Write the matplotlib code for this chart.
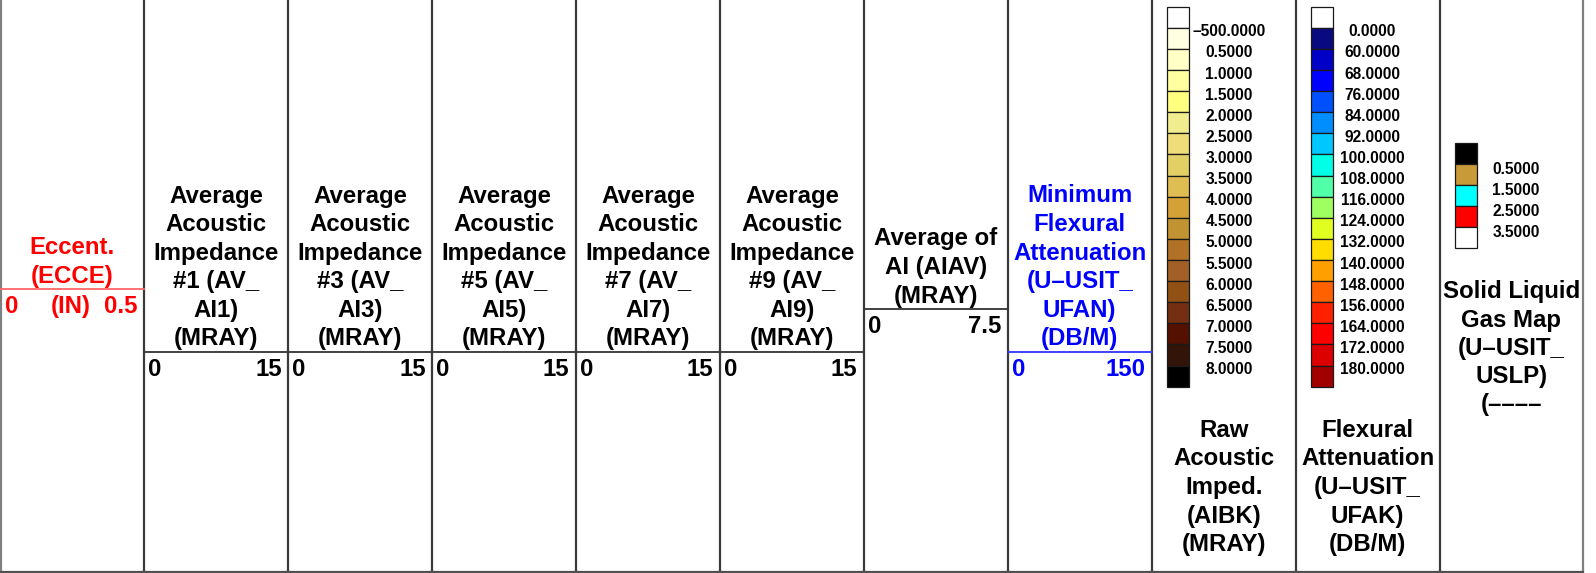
import matplotlib
matplotlib.use("Agg")
import matplotlib.pyplot as plt
from matplotlib.patches import Rectangle

plt.rcParams['font.family'] = ['Liberation Sans', 'DejaVu Sans']
plt.rcParams['font.weight'] = 'bold'

# ---- track headers -------------------------------------------------------
track_titles = [
    "Eccent.\n(ECCE)",
    "Average\nAcoustic\nImpedance\n#1 (AV_\nAI1)\n(MRAY)",
    "Average\nAcoustic\nImpedance\n#3 (AV_\nAI3)\n(MRAY)",
    "Average\nAcoustic\nImpedance\n#5 (AV_\nAI5)\n(MRAY)",
    "Average\nAcoustic\nImpedance\n#7 (AV_\nAI7)\n(MRAY)",
    "Average\nAcoustic\nImpedance\n#9 (AV_\nAI9)\n(MRAY)",
    "Average of\nAI (AIAV)\n(MRAY)",
    "Minimum\nFlexural\nAttenuation\n(U\u2013USIT_\nUFAN)\n(DB/M)",
]
track_colors = ["#ff0000", "black", "black", "black", "black", "black", "black", "#0000ff"]
line_colors = ["#ff6666", "#333333", "#333333", "#333333", "#333333", "#333333", "#333333", "#3333ff"]
scale_left = ["0", "0", "0", "0", "0", "0", "0", "0"]
scale_mid = ["(IN)", "", "", "", "", "", "", ""]
scale_right = ["0.5", "15", "15", "15", "15", "15", "7.5", "150"]
header_line_y = [289, 352, 352, 352, 352, 352, 309, 352]

# ---- colour legends ------------------------------------------------------
aibk_title = "Raw\nAcoustic\nImped.\n(AIBK)\n(MRAY)"
aibk_values = [-500.0, 0.5, 1.0, 1.5, 2.0, 2.5, 3.0, 3.5, 4.0, 4.5, 5.0,
               5.5, 6.0, 6.5, 7.0, 7.5, 8.0]
aibk_colors = ["#ffffff", "#ffffe2", "#ffffc6", "#ffffa0", "#ffff80", "#efed8e",
               "#eedd78", "#e2cf66", "#dfbd52", "#d4a136", "#c29333", "#b17126",
               "#a26026", "#915114", "#742f12", "#541000", "#331408", "#000000"]

ufak_title = "Flexural\nAttenuation\n(U\u2013USIT_\nUFAK)\n(DB/M)"
ufak_values = [0, 60, 68, 76, 84, 92, 100, 108, 116, 124, 132, 140, 148,
               156, 164, 172, 180]
ufak_colors = ["#ffffff", "#0a0a80", "#0000c8", "#0000ff", "#0050ff", "#008eff",
               "#00c8ff", "#00ffe6", "#50ffa8", "#a0ff60", "#e0ff20", "#ffdd00",
               "#ffa000", "#ff6000", "#ff2000", "#ff0000", "#dd0000", "#a00000"]

uslp_title = "Solid Liquid\nGas Map\n(U\u2013USIT_\nUSLP)\n(\u2013\u2013\u2013\u2013"
uslp_values = [0.5, 1.5, 2.5, 3.5]
uslp_colors = ["#000000", "#c99a3a", "#00ffff", "#ff0000", "#ffffff"]

# ---- layout --------------------------------------------------------------
W, H = 1596, 573
N_TRACKS = 11
X0, STEP = 0.5, 143.9
BOTTOM = 572
LS = 28.6           # line pitch of header text (px)
PX = 72.0 / 100.0   # px -> pt at 100 dpi
TITLE_FS = 24 * PX
LEG_FS = 15.5 * PX

fig = plt.figure(figsize=(W / 100, H / 100), dpi=100)
ax = fig.add_axes([0, 0, 1, 1])
ax.set_xlim(0, W)
ax.set_ylim(H, 0)
ax.axis("off")


def multiline(text, xc, first_baseline, color="black", fs=TITLE_FS, pitch=LS):
    for i, line in enumerate(text.split("\n")):
        ax.text(xc, first_baseline + i * pitch, line, ha="center", va="baseline",
                fontsize=fs, color=color, fontweight="bold")


edges = [X0 + k * STEP for k in range(N_TRACKS + 1)]

# track separators and frame
for k, x in enumerate(edges):
    c = "#808080" if k in (0, N_TRACKS) else "#3a3a3a"
    ax.plot([x, x], [0, BOTTOM], color=c, lw=1.6, solid_capstyle="butt")
ax.plot([edges[0], edges[-1]], [BOTTOM, BOTTOM], color="#505050", lw=1.6)

# curve-track headers
for i, title in enumerate(track_titles):
    xl, xr = edges[i], edges[i + 1]
    xc = (xl + xr) / 2
    ly = header_line_y[i]
    n = len(title.split("\n"))
    first = ly - 6.5 - (n - 1) * LS
    multiline(title, xc, first, color=track_colors[i])
    ax.plot([xl, xr], [ly, ly], color=line_colors[i], lw=1.3)
    sy = ly + 24
    ax.text(xl + 4, sy, scale_left[i], ha="left", va="baseline",
            fontsize=TITLE_FS, color=track_colors[i])
    ax.text(xr - 6.5, sy, scale_right[i], ha="right", va="baseline",
            fontsize=TITLE_FS, color=track_colors[i])
    if scale_mid[i]:
        ax.text(xc - 2, sy, scale_mid[i], ha="center", va="baseline",
                fontsize=TITLE_FS, color=track_colors[i])


def legend(values, colors, bx, bw, top, bh, label_x, label_off, fmt="{:.4f}"):
    for j, c in enumerate(colors):
        ax.add_patch(Rectangle((bx, top + j * bh), bw, bh, facecolor=c,
                               edgecolor="#1a1a1a", lw=0.9))
    for j, v in enumerate(values):
        s = fmt.format(v).replace("-", "\u2013")
        ax.text(label_x, top + (j + 1) * bh + label_off, s, ha="center",
                va="baseline", fontsize=LEG_FS, color="black")


legend(aibk_values, aibk_colors, 1166.7, 22.0, 6.7, 21.11, 1229, 8.5)
multiline(aibk_title, (edges[8] + edges[9]) / 2, 436.7, pitch=28.7)

legend(ufak_values, ufak_colors, 1311.0, 21.5, 6.7, 21.11, 1372.5, 8.5)
multiline(ufak_title, (edges[9] + edges[10]) / 2, 436.7, pitch=28.7)

legend(uslp_values, uslp_colors, 1455.0, 21.7, 143.3, 21.0, 1516, 9.5)
multiline(uslp_title, (edges[10] + edges[11]) / 2, 298.3, pitch=28.3)

fig.savefig("out.png", dpi=100)
